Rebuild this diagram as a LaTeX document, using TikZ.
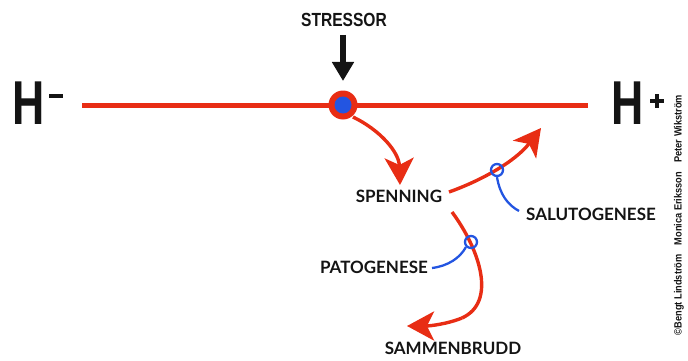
\documentclass[tikz,border=0pt]{standalone}
\usepackage{fontspec}
\setmainfont{Liberation Sans}
\newfontfamily\labfont{Lato}
\usetikzlibrary{arrows.meta}
\definecolor{hred}{RGB}{232,45,20}
\definecolor{hblue}{RGB}{35,85,225}
\definecolor{hblack}{RGB}{20,20,20}
\tikzset{
  lab/.style={font=\labfont\bfseries\fontsize{17}{17}\selectfont, text=hblack, inner sep=0pt},
  redarrow/.style={draw=hred, line width=3.4pt, -{Stealth[length=27pt,width=29pt,inset=7pt]}},
  blueline/.style={draw=hblue, line width=2.3pt},
  bigH/.style={font=\bfseries\fontsize{62}{62}\selectfont, text=hblack, inner sep=0pt},
  bar/.style={fill=hblack, draw=none}
}
\begin{document}
\begin{tikzpicture}[x=1pt,y=-1pt]
\useasboundingbox (0,0) rectangle (688,361);
% H- and H+
\node[bigH] (hminus) at (29,103) {\scalebox{0.72}[1]{H}};
\node[bar, minimum width=14pt, minimum height=4pt, inner sep=0pt] (minus) at (56,96) {};
\node[bigH] (hplus) at (628,103) {\scalebox{0.72}[1]{H}};
\node[bar, minimum width=14pt, minimum height=4pt, inner sep=0pt] (plush) at (657,101) {};
\node[bar, minimum width=4pt, minimum height=14pt, inner sep=0pt] (plusv) at (657,101) {};
% axis
\coordinate (l) at (82,105);
\coordinate (r) at (588,105);
\draw[hred, line width=5pt] (l) -- (r);
% ball
\node[circle, fill=hred, minimum size=29pt, inner sep=0pt] (ball) at (343,105) {};
\node[circle, fill=hblue, minimum size=17pt, inner sep=0pt] (core) at (343,105) {};
% stressor
\node[font=\bfseries\fontsize{19}{19}\selectfont, text=hblack, inner sep=0pt] (stressor) at (344,20) {\scalebox{0.82}[1]{STRESSOR}};
\coordinate (sa) at (343,35);
\coordinate (sb) at (343,81);
\draw[hblack, line width=6pt, -{Triangle[length=19pt,width=21pt]}] (sa) -- (sb);
% labels
\node[lab] (spenning) at (399,196) {SPENNING};
\node[lab] (saluto) at (591,214) {SALUTOGENESE};
\node[lab] (pato) at (374,267) {PATOGENESE};
\node[lab] (sammen) at (453,348) {SAMMENBRUDD};
% stressor to spenning
\coordinate (c1s) at (353,117);
\coordinate (c1e) at (400,185);
\draw[redarrow] (c1s) .. controls (380,130) and (399,152) .. (c1e);
% salutogenese
\coordinate (c2s) at (449,192);
\coordinate (c2e) at (541,128);
\draw[redarrow] (c2s) .. controls (480,181) and (515,162) .. (c2e);
% patogenese
\coordinate (c3s) at (452,212);
\coordinate (c3m) at (462,318);
\coordinate (c3e) at (407,326);
\draw[draw=hred, line width=3.4pt] (c3s) .. controls (480,250) and (497,302) .. (c3m);
\draw[redarrow] (c3m) .. controls (447,324) and (430,326) .. (c3e);
% blue loops
\node[circle, draw=hblue, line width=2.3pt, minimum size=12pt, inner sep=0pt] (loop1) at (497,170) {};
\coordinate (b1e) at (519,211);
\draw[blueline] (loop1.south) .. controls (500,195) and (508,205) .. (b1e);
\node[circle, draw=hblue, line width=2.3pt, minimum size=12pt, inner sep=0pt] (loop2) at (471,242) {};
\coordinate (b2e) at (432,268);
\draw[blueline] (loop2.south west) .. controls (460,258) and (448,266) .. (b2e);
% copyright
\node[rotate=90, font=\bfseries\fontsize{10.5}{10.5}\selectfont, text=hblack, inner sep=0pt] (copy) at (679,215) {\scalebox{0.88}[1]{©Bengt Lindström\quad Monica Eriksson\quad Peter Wikström}};
\end{tikzpicture}
\end{document}
